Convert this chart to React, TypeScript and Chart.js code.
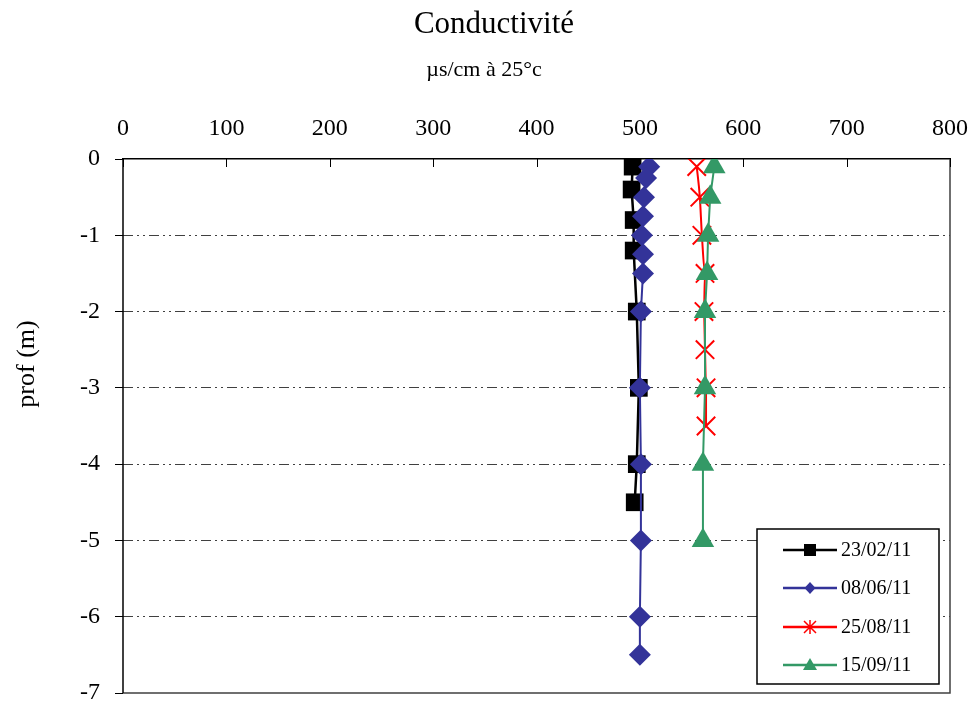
import React, { useEffect, useRef } from 'react';
import { Chart, registerables } from 'chart.js';

Chart.register(...registerables);

// ---- data ----
const seriesLabels = ['23/02/11', '08/06/11', '25/08/11', '15/09/11'];

const depth1 = [-0.1, -0.4, -0.8, -1.2, -2, -3, -4, -4.5];
const cond1 = [493, 492, 494, 494, 497, 499, 497, 495];

const depth2 = [-0.1, -0.25, -0.5, -0.75, -1, -1.25, -1.5, -2, -3, -4, -5, -6, -6.5];
const cond2 = [509, 506, 504, 503, 502, 503, 503, 501, 500, 501, 501, 500, 500];

const depth3 = [-0.1, -0.5, -1, -1.5, -2, -2.5, -3, -3.5];
const cond3 = [555, 558, 560, 563, 562, 563, 564, 564];

const depth4 = [-0.1, -0.5, -1, -1.5, -2, -3, -4, -5];
const cond4 = [572, 568, 566, 565, 563, 563, 561, 561];

const xTickValues = [0, 100, 200, 300, 400, 500, 600, 700, 800];

const colors = ['#000000', '#333399', '#FF0000', '#339966'];

const titleText = 'Conductivité';
const subtitleText = 'µs/cm à 25°c';
const yTitleText = 'prof (m)';

const SERIF = "'Liberation Serif','Times New Roman',serif";

function pts(xs: number[], ys: number[]) {
  return xs.map((x, i) => ({ x, y: ys[i] }));
}

function drawLegendMarker(ctx: CanvasRenderingContext2D, kind: number, x: number, y: number, color: string) {
  ctx.save();
  ctx.fillStyle = color;
  ctx.strokeStyle = color;
  ctx.lineWidth = 1.5;
  if (kind === 0) {
    ctx.fillRect(x - 6, y - 6, 12, 12);
  } else if (kind === 1) {
    ctx.beginPath();
    ctx.moveTo(x, y - 6);
    ctx.lineTo(x + 5.5, y);
    ctx.lineTo(x, y + 6);
    ctx.lineTo(x - 5.5, y);
    ctx.closePath();
    ctx.fill();
  } else if (kind === 2) {
    const r = 6;
    ctx.beginPath();
    ctx.moveTo(x - r, y - r);
    ctx.lineTo(x + r, y + r);
    ctx.moveTo(x + r, y - r);
    ctx.lineTo(x - r, y + r);
    ctx.moveTo(x, y - r - 1);
    ctx.lineTo(x, y + r + 1);
    ctx.stroke();
  } else {
    ctx.beginPath();
    ctx.moveTo(x, y - 7);
    ctx.lineTo(x + 7, y + 5);
    ctx.lineTo(x - 7, y + 5);
    ctx.closePath();
    ctx.fill();
  }
  ctx.restore();
}

const decorPlugin = {
  id: 'decor',
  beforeDraw(chart: any) {
    const ctx = chart.ctx;
    ctx.save();
    ctx.fillStyle = '#ffffff';
    ctx.fillRect(0, 0, chart.width, chart.height);
    ctx.restore();
  },
  beforeDatasetsDraw(chart: any) {
    const ctx = chart.ctx;
    const a = chart.chartArea;
    const xs = chart.scales.x;
    ctx.save();
    ctx.setLineDash([]);
    // right & bottom frame
    ctx.strokeStyle = '#404040';
    ctx.lineWidth = 1.5;
    ctx.beginPath();
    ctx.moveTo(a.left, a.bottom);
    ctx.lineTo(a.right, a.bottom);
    ctx.lineTo(a.right, a.top);
    ctx.stroke();
    // left axis line
    ctx.strokeStyle = '#000000';
    ctx.beginPath();
    ctx.moveTo(a.left, a.top);
    ctx.lineTo(a.left, a.bottom);
    ctx.stroke();
    // inner top tick marks
    ctx.lineWidth = 1;
    xTickValues.forEach((v) => {
      const px = Math.round(xs.getPixelForValue(v)) + 0.5;
      ctx.beginPath();
      ctx.moveTo(px, a.top);
      ctx.lineTo(px, a.top + 8);
      ctx.stroke();
    });
    ctx.restore();
  },
  afterDraw(chart: any) {
    const ctx = chart.ctx;
    const a = chart.chartArea;
    ctx.save();
    ctx.fillStyle = '#000000';
    ctx.textAlign = 'center';
    ctx.textBaseline = 'alphabetic';
    ctx.font = `31px ${SERIF}`;
    ctx.fillText(titleText, 494, 33);
    ctx.font = `22px ${SERIF}`;
    ctx.fillText(subtitleText, 484, 76);
    ctx.restore();

    ctx.save();
    ctx.fillStyle = '#000000';
    ctx.translate(27, 364);
    ctx.rotate(-Math.PI / 2);
    ctx.textAlign = 'center';
    ctx.textBaseline = 'middle';
    ctx.font = `26px ${SERIF}`;
    ctx.fillText(yTitleText, 0, 0);
    ctx.restore();

    // legend
    const w = 182;
    const h = 155;
    const left = a.right - 11 - w;
    const top = a.bottom - 9 - h;
    ctx.save();
    ctx.setLineDash([]);
    ctx.fillStyle = '#ffffff';
    ctx.fillRect(left, top, w, h);
    ctx.strokeStyle = '#000000';
    ctx.lineWidth = 1.5;
    ctx.strokeRect(left, top, w, h);
    const rows = [21, 59, 98, 136];
    chart.data.datasets.forEach((ds: any, i: number) => {
      const y = top + rows[i];
      ctx.strokeStyle = ds.borderColor;
      ctx.lineWidth = 2.5;
      ctx.beginPath();
      ctx.moveTo(left + 26, y);
      ctx.lineTo(left + 80, y);
      ctx.stroke();
      drawLegendMarker(ctx, i, left + 53, y, ds.borderColor);
      ctx.fillStyle = '#000000';
      ctx.font = `20px ${SERIF}`;
      ctx.textAlign = 'left';
      ctx.textBaseline = 'middle';
      ctx.fillText(ds.label, left + 84, y + 1);
    });
    ctx.restore();
  },
};

export default function App() {
  const ref = useRef<HTMLCanvasElement>(null);

  useEffect(() => {
    if (!ref.current) return;
    const chart = new Chart(ref.current, {
      type: 'scatter',
      data: {
        datasets: [
          {
            label: seriesLabels[0],
            data: pts(cond1, depth1),
            borderColor: colors[0],
            backgroundColor: colors[0],
            showLine: true,
            borderWidth: 2.5,
            pointStyle: 'rect',
            pointRadius: 12.5,
            pointBorderWidth: 0,
            order: 4,
          },
          {
            label: seriesLabels[1],
            data: pts(cond2, depth2),
            borderColor: colors[1],
            backgroundColor: colors[1],
            showLine: true,
            borderWidth: 2,
            pointStyle: 'rectRot',
            pointRadius: 11,
            pointBorderWidth: 0,
            order: 3,
          },
          {
            label: seriesLabels[2],
            data: pts(cond3, depth3),
            borderColor: colors[2],
            backgroundColor: colors[2],
            showLine: true,
            borderWidth: 2,
            tension: 0.4,
            cubicInterpolationMode: 'monotone',
            pointStyle: 'crossRot',
            pointRadius: 13,
            pointBorderWidth: 2,
            order: 2,
          },
          {
            label: seriesLabels[3],
            data: pts(cond4, depth4),
            borderColor: colors[3],
            backgroundColor: colors[3],
            showLine: true,
            borderWidth: 2,
            pointStyle: 'triangle',
            pointRadius: 13,
            pointBorderWidth: 0,
            order: 1,
          },
        ],
      },
      options: {
        responsive: true,
        maintainAspectRatio: false,
        animation: false,
        devicePixelRatio: 1,
        layout: { padding: { top: 100, left: 0, right: 23, bottom: 9 } },
        plugins: {
          legend: { display: false },
          tooltip: { enabled: false },
          title: { display: false },
        },
        scales: {
          x: {
            type: 'linear',
            position: 'top',
            min: 0,
            max: 800,
            afterFit: (s: any) => {
              s.height = 59;
              s.paddingLeft = 0;
              s.paddingRight = 0;
            },
            afterBuildTicks: (s: any) => {
              s.ticks = xTickValues.map((v) => ({ value: v }));
            },
            ticks: {
              color: '#000000',
              font: { family: SERIF, size: 24 },
              padding: 16,
              maxRotation: 0,
              autoSkip: false,
            },
            grid: { display: true, drawOnChartArea: false, drawTicks: false },
            border: { display: true, color: '#000000', width: 1.5 },
          },
          y: {
            type: 'linear',
            min: -7,
            max: 0,
            afterFit: (s: any) => {
              s.width = 123;
              s.paddingTop = 0;
              s.paddingBottom = 0;
            },
            ticks: {
              stepSize: 1,
              color: '#000000',
              font: { family: SERIF, size: 24 },
              padding: 15,
            },
            grid: {
              drawOnChartArea: true,
              drawTicks: true,
              tickLength: 8,
              tickColor: '#000000',
              tickWidth: 1,
              tickBorderDash: [],
              color: (c: any) =>
                c.tick && (c.tick.value === 0 || c.tick.value === -7) ? 'rgba(0,0,0,0)' : '#404040',
              lineWidth: 1,
            },
            border: { display: false, dash: [10, 4, 2, 4, 2, 4] },
          },
        },
      },
      plugins: [decorPlugin],
    } as any);
    return () => chart.destroy();
  }, []);

  return (
    <div
      style={{
        position: 'absolute',
        left: 0,
        top: 0,
        width: 973,
        height: 702,
        overflow: 'hidden',
        background: '#ffffff',
      }}
    >
      <div style={{ position: 'relative', width: 973, height: 708 }}>
        <canvas ref={ref} />
      </div>
    </div>
  );
}
